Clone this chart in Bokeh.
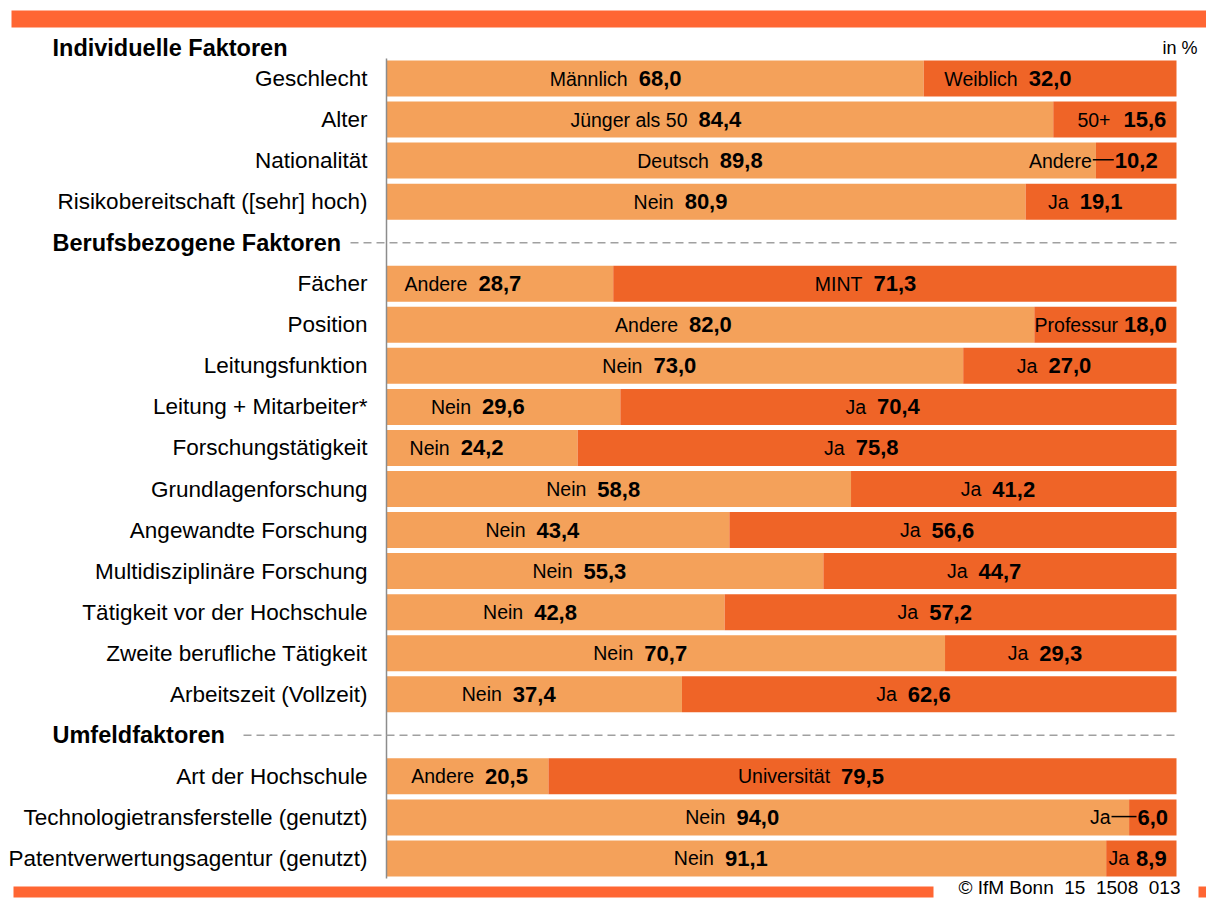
from bokeh.plotting import figure
from bokeh.models import ColumnDataSource, Range1d
from bokeh.core.properties import value
from bokeh.embed import file_html
from bokeh.resources import INLINE

# ---------------- data ----------------
group_titles = ["Individuelle Faktoren", "Berufsbezogene Faktoren", "Umfeldfaktoren"]
group_sizes = [4, 11, 3]
factors = [
    "Geschlecht", "Alter", "Nationalität", "Risikobereitschaft ([sehr] hoch)",
    "Fächer", "Position", "Leitungsfunktion", "Leitung + Mitarbeiter*",
    "Forschungstätigkeit", "Grundlagenforschung", "Angewandte Forschung",
    "Multidisziplinäre Forschung", "Tätigkeit vor der Hochschule",
    "Zweite berufliche Tätigkeit", "Arbeitszeit (Vollzeit)",
    "Art der Hochschule", "Technologietransferstelle (genutzt)",
    "Patentverwertungsagentur (genutzt)",
]
left_names = ["Männlich", "Jünger als 50", "Deutsch", "Nein", "Andere", "Andere", "Nein",
              "Nein", "Nein", "Nein", "Nein", "Nein", "Nein", "Nein", "Nein",
              "Andere", "Nein", "Nein"]
left_values = [68.0, 84.4, 89.8, 80.9, 28.7, 82.0, 73.0, 29.6, 24.2, 58.8, 43.4,
               55.3, 42.8, 70.7, 37.4, 20.5, 94.0, 91.1]
right_names = ["Weiblich", "50+", "Andere", "Ja", "MINT", "Professur", "Ja", "Ja", "Ja",
               "Ja", "Ja", "Ja", "Ja", "Ja", "Ja", "Universität", "Ja", "Ja"]
right_values = [32.0, 15.6, 10.2, 19.1, 71.3, 18.0, 27.0, 70.4, 75.8, 41.2, 56.6,
                44.7, 57.2, 29.3, 62.6, 79.5, 6.0, 8.9]
unit_label = "in %"
source_note = "© IfM Bonn\u00a0 15\u00a0 1508\u00a0 013"

# ---------------- layout / style ----------------
W, H = 1206, 899
ORIGIN = 0          # page position of the figure's top-left corner
PX_PER_PCT = 7.9
ROW_PX = 41.05
LIGHT = "#F4A15A"
DARK = "#EF6427"
ACCENT = "#FF6633"
FONT = value("Liberation Sans")


def fx(px):  # screen px -> x data
    return (px - 386) / PX_PER_PCT


def fy(py):  # screen px -> y data
    return (py - 78) / ROW_PX


def fmt(v):
    return f"{v:.1f}".replace(".", ",")


# label tweaks (pixel offsets of the value label from the segment centre)
value_dx = {(0, 0): 5, (1, 1): 30, (5, 1): 40, (15, 0): 39, (17, 1): 10}
name_gap = {(5, 1): 6, (17, 1): 7, (1, 1): 13}
leader = {(2, 1): 23, (16, 1): 27}
VAL_FS = 22
NAME_FS = 19.5

# y slots
ys, header_ys = [], []
slot = 0
for g, n in enumerate(group_sizes):
    if g == 0:
        header_ys.append(fy(47))
    else:
        header_ys.append(slot)
        slot += 1
    for _ in range(n):
        ys.append(slot)
        slot += 1

p = figure(width=W, height=H, output_backend="svg", toolbar_location=None,
           x_range=Range1d(fx(ORIGIN), fx(ORIGIN + W)),
           y_range=Range1d(fy(ORIGIN + H), fy(ORIGIN)),
           min_border=0)
p.axis.visible = False
p.grid.visible = False
p.outline_line_color = None
p.background_fill_color = "white"
p.border_fill_color = "white"

# decorative bars (top and bottom)
p.quad(left=[fx(11)], right=[fx(1210)], top=[fy(10)], bottom=[fy(27)],
       color=ACCENT, line_color=None)
p.quad(left=[fx(13), fx(1198)], right=[fx(933), fx(1210)], top=[fy(886), fy(886)],
       bottom=[fy(897), fy(897)], color=ACCENT, line_color=None)

# bars
src = ColumnDataSource(dict(y=ys, l=left_values,
                            r=[lv + rv for lv, rv in zip(left_values, right_values)]))
BH = 36 / ROW_PX
p.hbar(y="y", left=0, right="l", height=BH, source=src, color=LIGHT, line_color=None)
p.hbar(y="y", left="l", right="r", height=BH, source=src, color=DARK, line_color=None)

# vertical axis line
p.segment(x0=[0], x1=[0], y0=[fy(58)], y1=[fy(878)], line_color="#8C8C8C", line_width=1.5)

# dashed separator lines for the header rows
p.segment(x0=[fx(350), fx(243)], x1=[100, 100], y0=header_ys[1:], y1=header_ys[1:],
          line_color="#A0A0A0", line_width=1.5, line_dash="8 5")

# row labels
p.text(x=[fx(367)] * len(factors), y=ys, text=factors, text_align="right",
       text_baseline="middle", text_font=FONT, text_font_size="22.5px", text_color="#000000")

# header labels
p.text(x=[fx(52)] * 3, y=header_ys, text=group_titles, text_align="left",
       text_baseline="middle", text_font=FONT, text_font_size="23.5px",
       text_font_style="bold", text_color="#000000")


def val_width(s):
    return VAL_FS * sum(0.278 if c == "," else 0.556 for c in s)


# segment labels
vx, vy, vt, vdx = [], [], [], []
nx, ny, nt, ndx = [], [], [], []
lx0, lx1, ly = [], [], []
for i, (y, lv, rv) in enumerate(zip(ys, left_values, right_values)):
    segs = [(lv / 2, lv, left_names[i]), (lv + rv / 2, rv, right_names[i])]
    for side, (cen, v, nm) in enumerate(segs):
        s = fmt(v)
        dx = value_dx.get((i, side), 0)
        vx.append(cen); vy.append(y); vt.append(s); vdx.append(dx)
        half = val_width(s) / 2
        gap = leader.get((i, side), name_gap.get((i, side), 11))
        nx.append(cen); ny.append(y); nt.append(nm); ndx.append(dx - half - gap)
        if (i, side) in leader:
            cpx = 386 + PX_PER_PCT * cen + dx
            lx0.append(fx(cpx - half - gap + 1))
            lx1.append(fx(cpx - half - 1))
            ly.append(y - 0.02)

p.text(x="x", y="y", text="t", x_offset="dx",
       source=ColumnDataSource(dict(x=vx, y=vy, t=vt, dx=vdx)),
       text_align="center", text_baseline="middle", text_font=FONT,
       text_font_size=f"{VAL_FS}px", text_font_style="bold", text_color="#000000")
p.text(x="x", y="y", text="t", x_offset="dx",
       source=ColumnDataSource(dict(x=nx, y=ny, t=nt, dx=ndx)),
       text_align="right", text_baseline="middle", text_font=FONT,
       text_font_size=f"{NAME_FS}px", text_color="#000000")
p.segment(x0=lx0, x1=lx1, y0=ly, y1=ly, line_color="#000000", line_width=1.5)

# unit and source note
p.text(x=[fx(1197)], y=[fy(47)], text=[unit_label], text_align="right",
       text_baseline="middle", text_font=FONT, text_font_size="18px", text_color="#000000")
p.text(x=[fx(1180)], y=[fy(887)], text=[source_note], text_align="right",
       text_baseline="middle", text_font=FONT, text_font_size="19px", text_color="#000000")

open("out.html", "w").write(file_html(p, INLINE))
